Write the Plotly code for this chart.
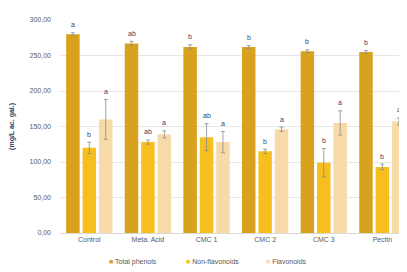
import plotly.graph_objects as go

categories = ["Control", "Meta. Acid", "CMC 1", "CMC 2", "CMC 3", "Pectin"]
series_names = ["Total phenols", "Non-flavonoids", "Flavonoids"]
total_phenols = [280, 267, 262, 262, 256, 255]
total_err = [2, 3, 3, 2, 2, 2]
total_letters = ["a", "ab", "b", "b", "b", "b"]
non_flav = [120, 128, 135, 115, 99, 93]
non_flav_err = [8, 3, 19, 3, 20, 4]
non_flav_letters = ["b", "ab", "ab", "b", "b", "b"]
flav = [160, 139, 128, 146, 155, 157]
flav_err = [28, 5, 15, 3, 17, 5]
flav_letters = ["a", "a", "a", "a", "a", "a"]
y_ticks = [0, 50, 100, 150, 200, 250, 300]
y_tick_labels = ["0,00", "50,00", "100,00", "150,00", "200,00", "250,00", "300,00"]
y_title = "(mg/L ac. gal.)"

colors = ["#D9A21E", "#F7BF1E", "#F8DAA8"]
values = [total_phenols, non_flav, flav]
errors = [total_err, non_flav_err, flav_err]
letters = [total_letters, non_flav_letters, flav_letters]

step = 0.28
width = 0.23

fig = go.Figure()
annotations = []
for j in range(3):
    xs = [i + (j - 1) * step for i in range(len(categories))]
    fig.add_trace(go.Bar(
        x=xs, y=values[j], width=width, name=series_names[j], showlegend=False,
        marker=dict(color=colors[j], line=dict(width=0)),
        error_y=dict(type="data", array=errors[j], color="#8c8c8c", thickness=0.8, width=2),
        cliponaxis=False,
    ))
    for x, v, e, t in zip(xs, values[j], errors[j], letters[j]):
        annotations.append(dict(x=x, y=v + e, text=t, showarrow=False, yshift=8,
                                font=dict(size=7, color="#3c3c5a")))

# legend drawn as text items (small square swatches)
legend_x = [0.135, 0.357, 0.587]
for name, col, lx in zip(series_names, colors, legend_x):
    annotations.append(dict(xref="paper", yref="paper", x=lx, y=-0.136, xanchor="left", yanchor="middle",
                            text=f'<span style="color:{col}">■</span> {name}', showarrow=False,
                            font=dict(size=7, color="#595959")))

# y-axis title
annotations.append(dict(xref="paper", yref="paper", x=-0.14, y=0.5, xanchor="center", yanchor="middle",
                        text=f"<b>{y_title}</b>", textangle=-90, showarrow=False,
                        font=dict(size=7, color="#2e3a5c")))

fig.update_layout(
    width=399, height=264,
    margin=dict(l=52, r=0, t=12, b=39),
    paper_bgcolor="white", plot_bgcolor="white",
    font=dict(family="Liberation Sans, Arial", size=7, color="#595959"),
    barmode="overlay",
    showlegend=False,
    annotations=annotations,
)
fig.update_xaxes(range=[-0.5, 5.42], tickvals=list(range(len(categories))), ticktext=categories,
                 showgrid=False, zeroline=False, showline=True, linecolor="#d9d9d9", linewidth=1,
                 ticks="", tickfont=dict(size=7, color="#595959"), automargin=False)
fig.update_yaxes(range=[0, 300], tickvals=y_ticks, ticktext=y_tick_labels,
                 showgrid=True, gridcolor="#e6e6e6", gridwidth=1, zeroline=False, showline=False,
                 ticks="", tickfont=dict(size=7, color="#595959"), automargin=False,
                 ticklabelstandoff=8)

fig.write_html("out.html")
